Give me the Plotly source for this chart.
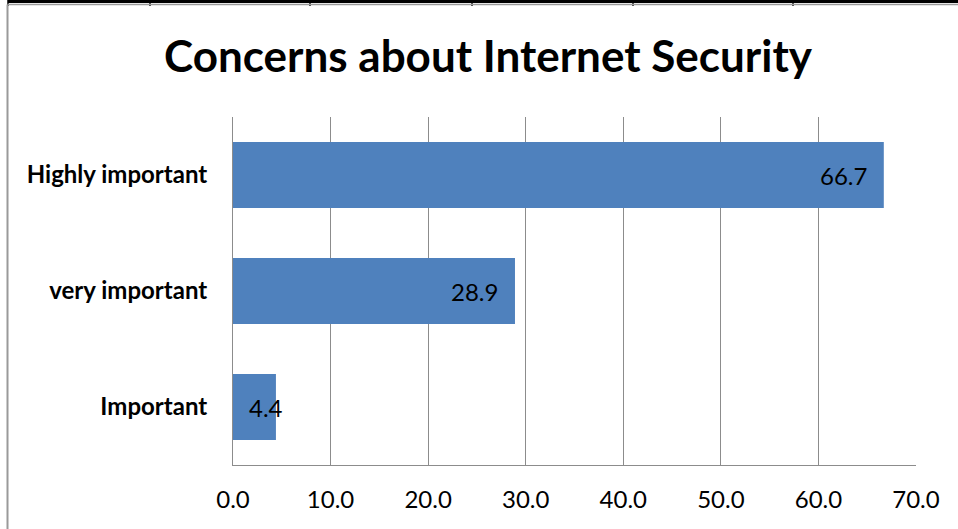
import plotly.graph_objects as go

categories = ["Important", "very important", "Highly important"]
values = [4.4, 28.9, 66.7]
tick_vals = [0, 10, 20, 30, 40, 50, 60, 70]
title_text = "Concerns about Internet Security"

W, H = 958, 529
L, R, T, B = 233, 42, 117, 64
PW, PH = W - L - R, H - T - B
FONT = "Lato"
XMAX = 70


def px(x):
    return (x - L) / PW


def py(y):
    return 1 - (y - T) / PH


fig = go.Figure(go.Bar(
    y=categories, x=values, orientation="h",
    marker=dict(color="#4F81BD", line=dict(width=0)),
    width=0.57, hoverinfo="x+y",
))

annotations = []
for c, v in zip(categories, values):
    bar_px = v / XMAX * PW
    if bar_px > 70:
        annotations.append(dict(x=v, y=c, xref="x", yref="y", text=f"{v:.1f}",
                                xanchor="right", xshift=-15, showarrow=False,
                                font=dict(family=FONT, size=24, color="black")))
    else:
        annotations.append(dict(x=0, y=c, xref="x", yref="y", text=f"{v:.1f}",
                                xanchor="left", xshift=14, showarrow=False,
                                font=dict(family=FONT, size=24, color="black")))

shapes = [
    dict(type="line", xref="paper", yref="paper", x0=px(8), x1=px(W + 2),
         y0=py(1.5), y1=py(1.5), line=dict(color="black", width=3)),
] + [
    dict(type="line", xref="paper", yref="paper", x0=px(p), x1=px(p),
         y0=py(-1), y1=py(6), line=dict(color="black", width=1.5))
    for p in [8, 150, 310, 472, 633, 793]
] + [
    dict(type="line", xref="paper", yref="paper", x0=px(7.5), x1=px(7.5),
         y0=py(4.5), y1=py(H + 2), line=dict(color="#9a9a9a", width=2)),
    dict(type="line", xref="paper", yref="paper", x0=px(7.5), x1=px(W + 2),
         y0=py(4.5), y1=py(4.5), line=dict(color="#9a9a9a", width=1.5)),
]

fig.update_layout(
    width=W, height=H,
    margin=dict(l=L, r=R, t=T, b=B),
    paper_bgcolor="white", plot_bgcolor="white",
    showlegend=False,
    title=dict(text=f"<b>{title_text}</b>", x=488 / W, xanchor="center",
               y=1 - 57 / H, yanchor="middle",
               font=dict(family=FONT, size=44, color="black")),
    xaxis=dict(range=[0, XMAX], tickvals=tick_vals, tickformat=".1f",
               showgrid=True, gridcolor="#8c8c8c", gridwidth=1,
               showline=True, linecolor="#8c8c8c", linewidth=1,
               zeroline=False, ticks="", ticklabelstandoff=13,
               tickfont=dict(family=FONT, size=24, color="black")),
    yaxis=dict(showgrid=False, showline=True, linecolor="#8c8c8c", linewidth=1,
               ticks="", ticklabelstandoff=20,
               tickvals=categories, ticktext=[f"<b>{c}</b>" for c in categories],
               tickfont=dict(family=FONT, size=24, color="black"),
               range=[-0.5, 2.5]),
    shapes=shapes,
    annotations=annotations,
)

fig.write_html("out.html")
